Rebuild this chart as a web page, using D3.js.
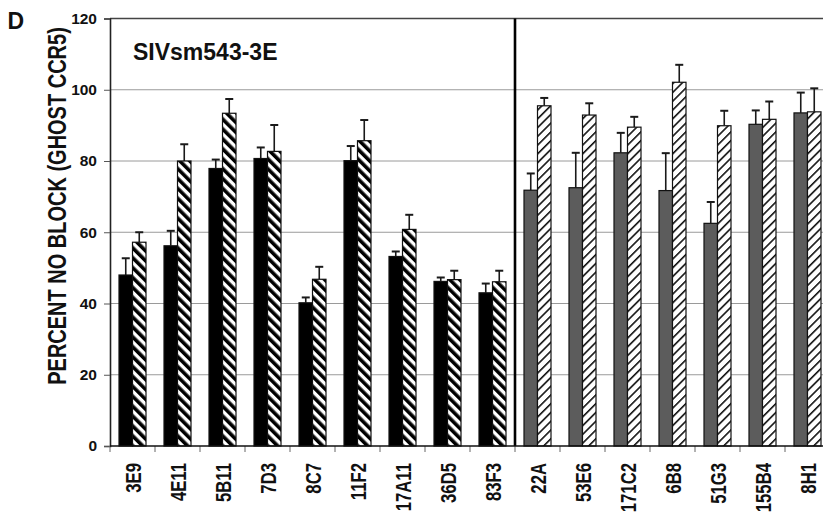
<!DOCTYPE html>
<html>
<head>
<meta charset="utf-8">
<script src="https://cdn.jsdelivr.net/npm/d3@7"></script>
<style>
  html, body { margin: 0; padding: 0; background: #fff; }
  svg { display: block; font-family: "Liberation Sans", Arial, Helvetica, sans-serif; }
</style>
</head>
<body>
<svg id="chart" width="823" height="521"></svg>
<script>
// Antibodies tested against SIVsm543-3E: first panel, then second panel
const leftMAbs  = ["3E9", "4E11", "5B11", "7D3", "8C7", "11F2", "17A11", "36D5", "83F3"];
const rightMAbs = ["22A", "53E6", "171C2", "6B8", "51G3", "155B4", "8H1"];
const categories = leftMAbs.concat(rightMAbs);

// Percent no block, solid bars and hatched bars
const solidValues   = [48.0, 56.2, 77.9, 80.7, 40.2, 80.1, 53.2, 46.2, 43.0, 71.8, 72.5, 82.3, 71.7, 62.5, 90.3, 93.5];
const solidErrors   = [4.7, 4.2, 2.5, 3.1, 1.5, 4.1, 1.4, 1.1, 2.6, 4.7, 9.8, 5.6, 10.5, 6.0, 3.9, 5.7];
const hatchedValues = [57.2, 80.0, 93.4, 82.7, 46.8, 85.7, 60.8, 46.7, 46.1, 95.5, 92.9, 89.5, 102.1, 89.9, 91.7, 93.8];
const hatchedErrors = [2.8, 4.7, 4.0, 7.4, 3.5, 5.8, 4.1, 2.5, 3.1, 2.2, 3.3, 2.9, 4.9, 4.2, 5.0, 6.6];

const yTicks = [0, 20, 40, 60, 80, 100, 120];
const seriesKeys = ["solid", "hatched"];

const svg = d3.select("#chart");
const plotLeft = 110, plotRight = 830, plotTop = 18.5, plotBottom = 446;

const x = d3.scaleBand().domain(categories).range([plotLeft, plotRight]).paddingInner(0).paddingOuter(0);
const xs = d3.scaleBand().domain(seriesKeys).range([0, x.bandwidth()]).paddingInner(0).paddingOuter(2 / 3);
const y = d3.scaleLinear().domain([0, 120]).range([plotBottom, plotTop]);

// Hatch patterns
const defs = svg.append("defs");
const p1 = defs.append("pattern").attr("id", "hatchBack")
  .attr("patternUnits", "userSpaceOnUse").attr("width", 7).attr("height", 7)
  .attr("patternTransform", "rotate(-45)");
p1.append("rect").attr("width", 7).attr("height", 7).attr("fill", "#fff");
p1.append("rect").attr("width", 3.6).attr("height", 7).attr("fill", "#000");

const p2 = defs.append("pattern").attr("id", "hatchFwd")
  .attr("patternUnits", "userSpaceOnUse").attr("width", 6.2).attr("height", 6.2)
  .attr("patternTransform", "rotate(45)");
p2.append("rect").attr("width", 6.2).attr("height", 6.2).attr("fill", "#fff");
p2.append("rect").attr("width", 1.6).attr("height", 6.2).attr("fill", "#111");

// Gridlines
svg.append("g").selectAll("line")
  .data(yTicks.filter(t => t > 0 && t < 120))
  .join("line")
  .attr("x1", plotLeft).attr("x2", plotRight)
  .attr("y1", d => y(d)).attr("y2", d => y(d))
  .attr("stroke", "#9a9a9a").attr("stroke-width", 1);

svg.append("line")
  .attr("x1", plotLeft).attr("x2", plotRight)
  .attr("y1", y(120)).attr("y2", y(120))
  .attr("stroke", "#444").attr("stroke-width", 1.4);

// Bars
const rows = categories.map((c, i) => ({
  name: c,
  second: i >= leftMAbs.length,
  solid: solidValues[i], solidErr: solidErrors[i],
  hatched: hatchedValues[i], hatchedErr: hatchedErrors[i]
}));

const groups = svg.append("g").selectAll("g")
  .data(rows).join("g")
  .attr("transform", d => `translate(${x(d.name)},0)`);

groups.each(function(d) {
  const g = d3.select(this);
  const items = [
    { key: "solid", v: d.solid, e: d.solidErr, fill: d.second ? "#5c5c5c" : "#000" },
    { key: "hatched", v: d.hatched, e: d.hatchedErr, fill: d.second ? "url(#hatchFwd)" : "url(#hatchBack)" }
  ];
  items.forEach(it => {
    const bx = xs(it.key), bw = xs.bandwidth();
    const cx = bx + bw / 2;
    g.append("line")
      .attr("x1", cx).attr("x2", cx)
      .attr("y1", y(it.v)).attr("y2", y(it.v + it.e))
      .attr("stroke", "#1a1a1a").attr("stroke-width", 1.6);
    g.append("line")
      .attr("x1", cx - 4).attr("x2", cx + 4)
      .attr("y1", y(it.v + it.e)).attr("y2", y(it.v + it.e))
      .attr("stroke", "#1a1a1a").attr("stroke-width", 2);
    g.append("rect")
      .attr("x", bx).attr("width", bw)
      .attr("y", y(it.v)).attr("height", y(0) - y(it.v))
      .attr("fill", it.fill)
      .attr("stroke", "#111").attr("stroke-width", 1.2);
  });
});

// Panel divider
svg.append("line")
  .attr("x1", x(rightMAbs[0])).attr("x2", x(rightMAbs[0]))
  .attr("y1", y(120)).attr("y2", y(0))
  .attr("stroke", "#000").attr("stroke-width", 2.6);

// Y axis
const yAxis = svg.append("g")
  .attr("transform", `translate(${plotLeft},0)`)
  .call(d3.axisLeft(y).tickValues(yTicks).tickSize(6).tickPadding(7));
yAxis.select(".domain").attr("stroke", "#222").attr("stroke-width", 1.6);
yAxis.selectAll(".tick line").attr("stroke", "#555");
yAxis.selectAll(".tick text")
  .attr("font-size", 15.5).attr("font-weight", "bold").attr("fill", "#111")
  .attr("font-family", "Liberation Sans, Arial, sans-serif");

// X axis: labels at band centres, ticks at band edges
const xAxis = svg.append("g")
  .attr("transform", `translate(0,${plotBottom})`)
  .call(d3.axisBottom(x).tickSize(0));
xAxis.select(".domain").remove();
xAxis.selectAll(".tick text")
  .attr("font-size", 22).attr("font-weight", "bold").attr("fill", "#111")
  .attr("font-family", "Liberation Sans, Arial, sans-serif")
  .attr("text-anchor", "end")
  .attr("x", 0).attr("y", 0).attr("dy", null)
  .attr("transform", "translate(8.5,17) rotate(-90) scale(0.76,1)");

svg.append("g").selectAll("line")
  .data(categories.map(c => x(c)))
  .join("line")
  .attr("x1", d => d).attr("x2", d => d)
  .attr("y1", plotBottom).attr("y2", plotBottom + 6)
  .attr("stroke", "#666").attr("stroke-width", 1);

svg.append("line")
  .attr("x1", plotLeft).attr("x2", plotRight)
  .attr("y1", plotBottom).attr("y2", plotBottom)
  .attr("stroke", "#111").attr("stroke-width", 1.6);

// Axis title
svg.append("text")
  .attr("transform", "translate(65.5,206) rotate(-90) scale(0.8,1)")
  .attr("text-anchor", "middle")
  .attr("font-size", 25).attr("font-weight", "bold").attr("fill", "#111")
  .text("PERCENT NO BLOCK (GHOST CCR5)");

// Panel letter and virus name
svg.append("text")
  .attr("x", 7.5).attr("y", 28.5)
  .attr("font-size", 23).attr("font-weight", "bold").attr("fill", "#111")
  .text("D");

svg.append("text")
  .attr("x", 133).attr("y", 60)
  .attr("font-size", 23).attr("font-weight", "bold").attr("fill", "#111")
  .text("SIVsm543-3E");
</script>
</body>
</html>
